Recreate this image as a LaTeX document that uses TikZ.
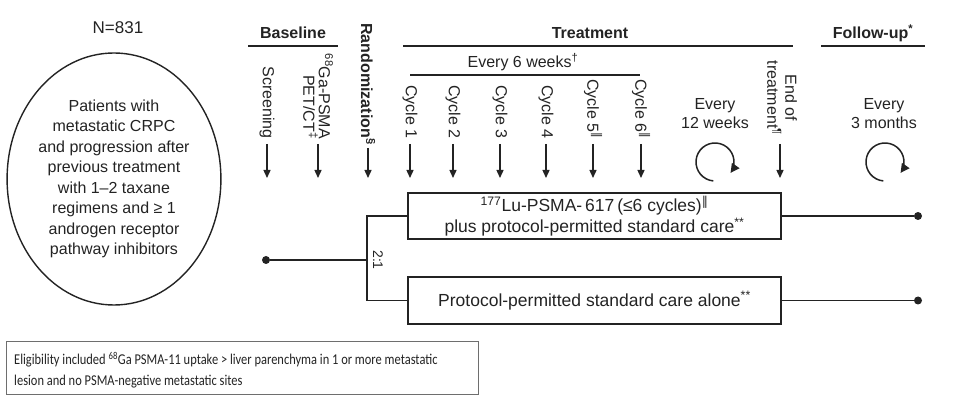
\documentclass[tikz,border=0pt]{standalone}
\usepackage{fontspec}
\setmainfont{Liberation Sans}
\newfontfamily\calib[FakeStretch=0.83]{Carlito}
\newfontfamily\dejavu{DejaVu Sans}
\usetikzlibrary{arrows.meta,shapes.geometric}
\definecolor{ink}{RGB}{35,35,35}
\definecolor{boxgray}{RGB}{110,110,110}
\newcommand{\dbar}{{\dejavu ‖}}
\begin{document}
\begin{tikzpicture}[x=1pt,y=-1pt,
  every node/.style={text=ink, inner sep=0pt},
  lbl/.style={font=\fontsize{16}{16}\selectfont},
  hdr/.style={font=\bfseries\fontsize{16}{16}\selectfont},
  vlbl/.style={font=\fontsize{16}{16}\selectfont, rotate=-90},
  hline/.style={draw=ink, line width=1.6pt},
  tick/.style={draw=ink, line width=1.4pt, -{Triangle[length=8pt,width=7pt]}},
  arm/.style={draw=ink, line width=1.4pt, rectangle, minimum width=373pt},
  conn/.style={draw=ink, line width=1.4pt},
  dotn/.style={circle, fill=ink, minimum size=8pt, inner sep=0pt},
  loop/.style={draw=ink, line width=1.5pt, -{Triangle[length=9pt,width=9pt]}}
]
\useasboundingbox (0,0) rectangle (975,411);

% population
\node[font=\fontsize{17}{17}\selectfont] (n) at (118,28) {N=831};
\node[draw=ink, line width=1.4pt, ellipse, minimum width=198pt, minimum height=252pt,
      align=center, font=\fontsize{16}{20.5}\selectfont] (pop) at (114,179)
  {Patients with\\metastatic CRPC\\and progression after\\previous treatment\\with 1--2 taxane\\regimens and ≥ 1\\androgen receptor\\pathway inhibitors};

% headers
\node[hdr] (hbase) at (293,33) {Baseline};
\draw[hline] (248,46) coordinate (bl1) -- (338,46) coordinate (bl2);
\node[hdr] (htreat) at (590,33) {Treatment};
\draw[hline] (403,46) coordinate (tl1) -- (793,46) coordinate (tl2);
\node[hdr] (hfol) at (873,33) {Follow-up\textsuperscript{*}};
\draw[hline] (821,46) coordinate (fl1) -- (925,46) coordinate (fl2);
\node[lbl] (e6) at (523,62) {Every 6 weeks\textsuperscript{†}};
\draw[conn] (410,75) coordinate (el1) -- (640,75) coordinate (el2);

% time points
\node[vlbl, anchor=east] (scr) at (267,139) {Screening};
\node[vlbl, anchor=east, align=right, font=\fontsize{16}{15.5}\selectfont] (pet) at (318,139)
  {\textsuperscript{68}Ga-PSMA\\PET/CT\textsuperscript{‡}};
\node[vlbl, anchor=east, font=\bfseries\fontsize{16}{16}\selectfont] (rand) at (368,145) {Randomization\textsuperscript{§}};
\node[vlbl, anchor=east] (c1) at (410,139) {Cycle 1};
\node[vlbl, anchor=east] (c2) at (453,139) {Cycle 2};
\node[vlbl, anchor=east] (c3) at (500,139) {Cycle 3};
\node[vlbl, anchor=east] (c4) at (546,139) {Cycle 4};
\node[vlbl, anchor=east] (c5) at (593,139) {Cycle 5\textsuperscript{\dbar}};
\node[vlbl, anchor=east] (c6) at (641,139) {Cycle 6\textsuperscript{\dbar}};
\node[vlbl, align=center, font=\fontsize{16}{18}\selectfont] (eot) at (782,98) {End of\\treatment\textsuperscript{¶}};

\foreach \n/\x in {scr/267,pet/318,c1/410,c2/453,c3/500,c4/546,c5/593,c6/641,eot/780}{
  \coordinate (\n t) at (\x,144);
  \coordinate (\n b) at (\x,178);
  \draw[tick] (\n t) -- (\n b);
}
\coordinate (randt) at (368,148);
\coordinate (randb) at (368,178);
\draw[tick] (randt) -- (randb);

% repeat loops
\node[lbl, align=center, font=\fontsize{16}{19}\selectfont] (ev12) at (715,114) {Every\\12 weeks};
\node[lbl, align=center, font=\fontsize{16}{19}\selectfont] (ev3) at (884,114) {Every\\3 months};
\coordinate (lp1) at (715,162);
\coordinate (lp2) at (885,162);
\draw[loop] (lp1) ++(95:19) arc[start angle=95, end angle=395, radius=19];
\draw[loop] (lp2) ++(95:19) arc[start angle=95, end angle=395, radius=19];

% arms
\node[arm, minimum height=46pt, align=center, font=\fontsize{17.5}{21}\selectfont] (b1) at (594.5,216)
  {\textsuperscript{177}Lu-PSMA-\,617\,(≤6 cycles)\textsuperscript{\dbar}\\plus protocol-permitted standard care\textsuperscript{**}};
\node[arm, minimum height=47pt, font=\fontsize{17.5}{21}\selectfont] (b2) at (594.5,300.5)
  {Protocol-permitted standard care alone\textsuperscript{**}};

\node[dotn] (d0) at (266,260) {};
\coordinate (sp) at (367,260);
\draw[conn] (d0) -- (sp);
\draw[conn] (b1.west) -| (sp) |- (b2.west);
\node[rotate=-90, font=\fontsize{14}{14}\selectfont] (ratio) at (378,260) {2:1};

\node[dotn] (d1) at (918,216) {};
\node[dotn] (d2) at (918,300.5) {};
\draw[conn] (b1.east) -- (d1);
\draw[conn] (b2.east) -- (d2);

% eligibility note
\node[draw=boxgray, line width=1pt, minimum width=472pt, minimum height=53pt] (elig) at (242,368.5) {};
\node[anchor=west, align=left, font=\calib\fontsize{15}{21}\selectfont] (eligt) at (14,370)
  {Eligibility included \textsuperscript{68}Ga PSMA-11 uptake > liver parenchyma in 1 or more metastatic\\lesion and no PSMA-negative metastatic sites};
\end{tikzpicture}
\end{document}
